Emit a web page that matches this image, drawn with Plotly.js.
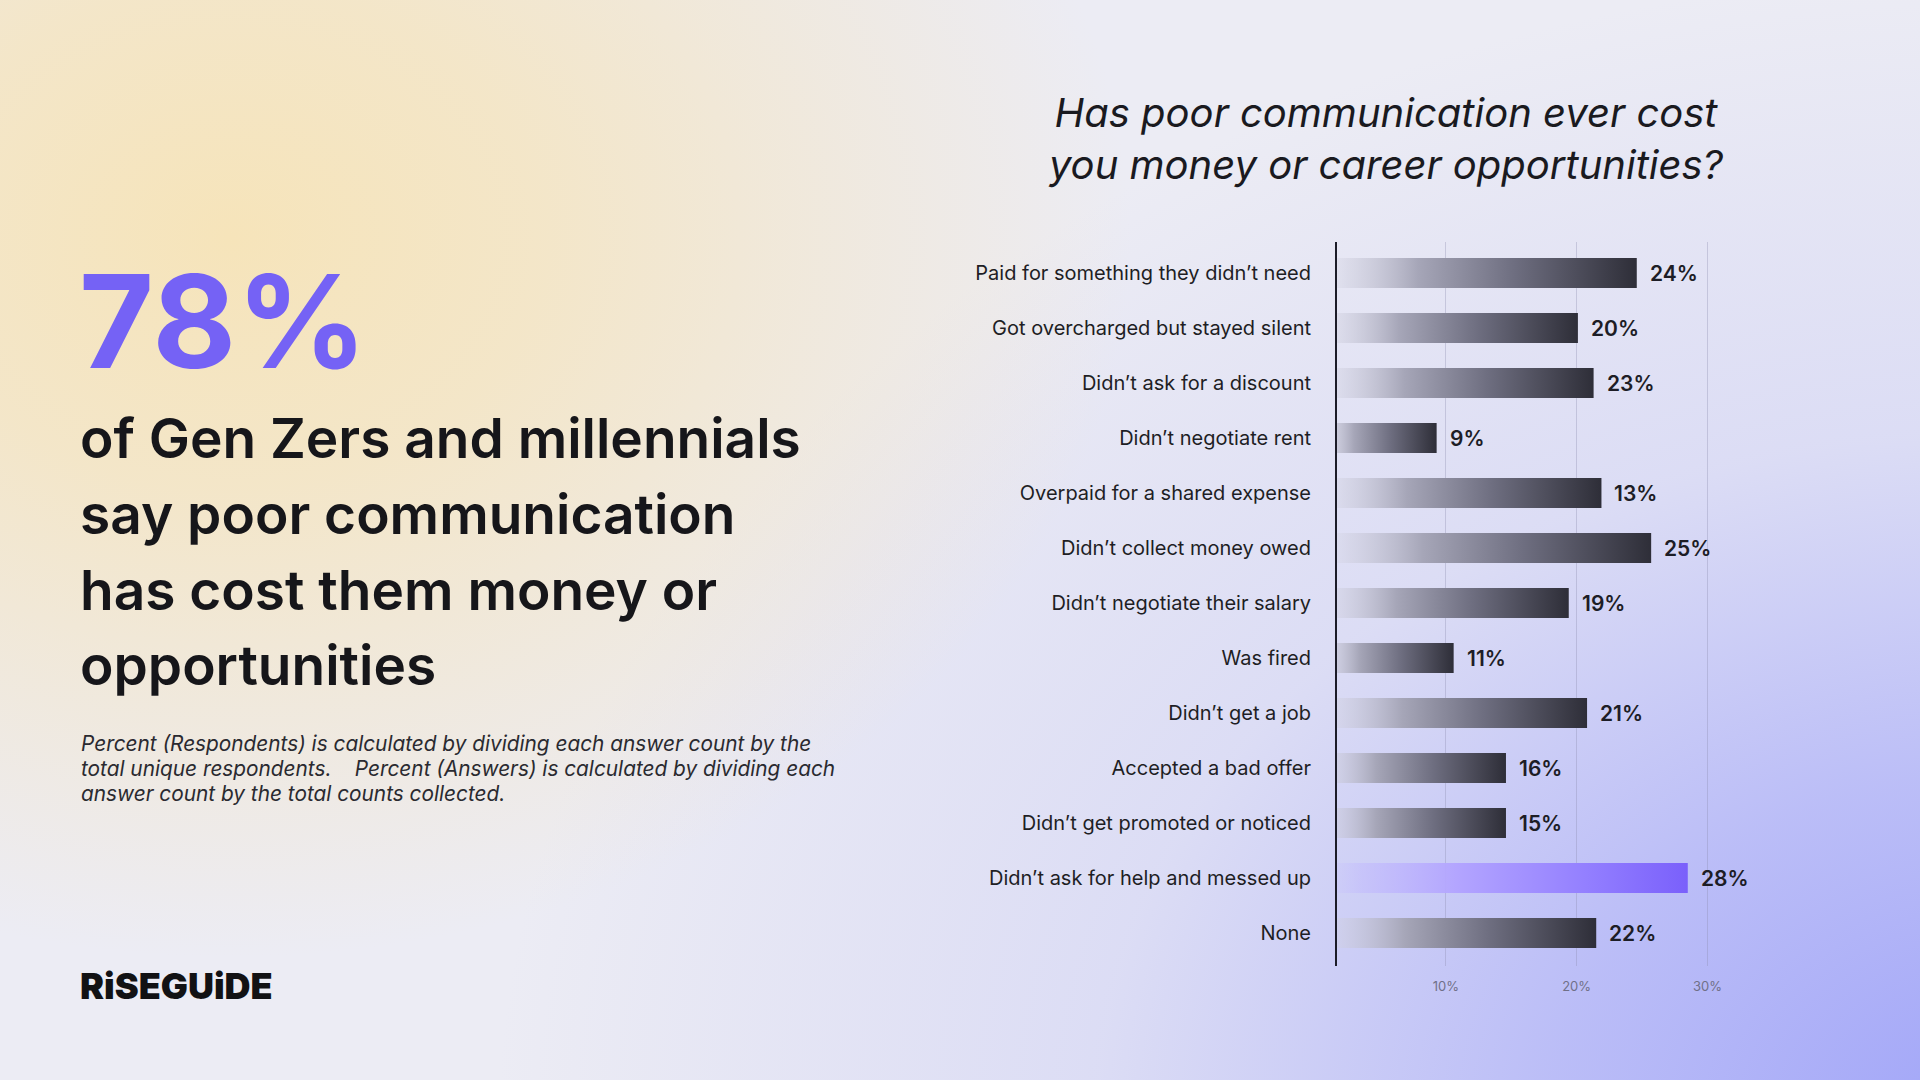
<!DOCTYPE html>
<html>
<head>
<meta charset="utf-8">
<script src="https://cdn.plot.ly/plotly-3.0.1.min.js"></script>
<style>
  html, body { margin: 0; padding: 0; width: 1920px; height: 1080px; overflow: hidden; }
  body {
    background:
      radial-gradient(ellipse 900px 720px at 12% 22%, rgba(246,228,186,1) 0%, rgba(246,228,186,0.75) 35%, rgba(246,228,186,0) 100%),
      radial-gradient(ellipse 1500px 1150px at 104% 104%, rgba(160,164,248,1) 0%, rgba(175,178,248,0.8) 30%, rgba(200,202,246,0.45) 60%, rgba(220,221,245,0) 100%),
      #ececf4;
  }
  #chart { width: 1920px; height: 1080px; }
</style>
</head>
<body>
<div id="chart"></div>
<script>
// ---- data ----
const categories = [
  "Paid for something they didn’t need",
  "Got overcharged but stayed silent",
  "Didn’t ask for a discount",
  "Didn’t negotiate rent",
  "Overpaid for a shared expense",
  "Didn’t collect money owed",
  "Didn’t negotiate their salary",
  "Was fired",
  "Didn’t get a job",
  "Accepted a bad offer",
  "Didn’t get promoted or noticed",
  "Didn’t ask for help and messed up",
  "None"
];
const barLengths = [24.6, 20.1, 21.3, 9.3, 21.9, 25.7, 19.4, 10.6, 20.8, 14.6, 14.6, 28.5, 21.5];
const valueLabels = ["24%", "20%", "23%", "9%", "13%", "25%", "19%", "11%", "21%", "16%", "15%", "28%", "22%"];
const highlightCategory = "Didn’t ask for help and messed up";
const xTickValues = [10, 20, 30];
const xTickLabels = ["10%", "20%", "30%"];

const chartTitle = "Has poor communication ever cost<br>you money or career opportunities?";
const bigStat = "78%";
const headlineLines = [
  "of Gen Zers and millennials",
  "say poor communication",
  "has cost them money or",
  "opportunities"
];
const footnoteLines = [
  "Percent (Respondents) is calculated by dividing each answer count by the",
  "total unique respondents.&nbsp;&nbsp;&nbsp; Percent (Answers) is calculated by dividing each",
  "answer count by the total counts collected."
];
const brand = "RiSEGUiDE";

// ---- layout helpers ----
const W = 1920, H = 1080;
const px = v => v / W;
const py = v => 1 - v / H;

const DARK = "#2f2f39", PURPLE = "#7b62fb";
const barColors = categories.map(c => c === highlightCategory ? PURPLE : DARK);

const FONT = "Inter, 'Noto Sans', sans-serif";

const annotations = [];
// value labels at bar ends
categories.forEach((c, i) => {
  annotations.push({
    x: barLengths[i], y: c, xref: "x", yref: "y",
    text: valueLabels[i], showarrow: false,
    xanchor: "left", yanchor: "middle", xshift: 11,
    font: { family: FONT, size: 21, weight: 600, color: "#1d1d26" }
  });
});
// big stat
annotations.push({
  x: px(77), y: py(321), xref: "paper", yref: "paper",
  text: bigStat, showarrow: false, xanchor: "left", yanchor: "middle",
  font: { family: FONT, size: 129, weight: 700, color: "#7562f5" }
});
// headline
const headBase = [438, 514, 590, 665];
headlineLines.forEach((t, i) => annotations.push({
  x: px(78), y: py(headBase[i]), xref: "paper", yref: "paper",
  text: t, showarrow: false, xanchor: "left", yanchor: "middle",
  font: { family: FONT, size: 55, weight: 600, color: "#16161a" }
}));
// footnote
const footY = [743, 768, 793];
footnoteLines.forEach((t, i) => annotations.push({
  x: px(79), y: py(footY[i]), xref: "paper", yref: "paper",
  text: t, showarrow: false, xanchor: "left", yanchor: "middle",
  font: { family: FONT, size: 20.8, style: "italic", color: "#2a2a30" }
}));
// brand
annotations.push({
  x: px(78), y: py(986), xref: "paper", yref: "paper",
  text: brand, showarrow: false, xanchor: "left", yanchor: "middle",
  font: { family: FONT, size: 36, weight: 900, color: "#121214" }
});

const trace = {
  type: "bar",
  orientation: "h",
  y: categories,
  x: barLengths,
  width: 0.545,
  marker: { color: barColors, line: { width: 0 } },
  hoverinfo: "skip"
};

const zeroPx = 1315, perUnit = 13.08;
const plotL = 1337, plotR = 1780, plotT = 242, plotB = 966;

const layout = {
  width: W, height: H,
  margin: { l: 0, r: 0, t: 0, b: 0, pad: 0 },
  paper_bgcolor: "rgba(0,0,0,0)",
  plot_bgcolor: "rgba(0,0,0,0)",
  showlegend: false,
  title: {
    text: chartTitle,
    x: px(1386), xref: "container", xanchor: "center",
    y: py(127), yref: "container", yanchor: "middle",
    font: { family: FONT, size: 40, style: "italic", color: "#1a1a1f" }
  },
  xaxis: {
    domain: [px(plotL), px(plotR)],
    range: [(plotL - zeroPx) / perUnit, (plotR - zeroPx) / perUnit],
    tickvals: xTickValues, ticktext: xTickLabels,
    showgrid: true, gridcolor: "rgba(140,140,175,0.35)", gridwidth: 1,
    zeroline: false, showline: false,
    ticks: "outside", ticklen: 8, tickcolor: "rgba(0,0,0,0)",
    tickfont: { family: FONT, size: 13, color: "#707088" },
    fixedrange: true
  },
  yaxis: {
    domain: [1 - plotB / H, 1 - plotT / H],
    type: "category",
    range: [12.6, -0.564],
    showline: true, linecolor: "#1c1c28", linewidth: 2,
    showgrid: false, zeroline: false,
    ticks: "outside", ticklen: 20, tickcolor: "rgba(0,0,0,0)",
    tickfont: { family: FONT, size: 20, color: "#1e1e24" },
    fixedrange: true
  },
  annotations: annotations
};

function applyGradients(gd) {
  const svg = gd.querySelector("svg.main-svg");
  if (!svg) return;
  const NS = "http://www.w3.org/2000/svg";
  let defs = svg.querySelector("defs");
  if (!defs) { defs = document.createElementNS(NS, "defs"); svg.insertBefore(defs, svg.firstChild); }
  function grad(id, stops) {
    if (defs.querySelector("#" + id)) return;
    const g = document.createElementNS(NS, "linearGradient");
    g.setAttribute("id", id);
    g.setAttribute("x1", "0"); g.setAttribute("y1", "0");
    g.setAttribute("x2", "1"); g.setAttribute("y2", "0");
    stops.forEach(([o, c]) => {
      const s = document.createElementNS(NS, "stop");
      s.setAttribute("offset", o); s.setAttribute("stop-color", c);
      g.appendChild(s);
    });
    defs.appendChild(g);
  }
  grad("gradDark", [[0, "rgba(220,220,232,0)"], [0.1, "rgba(205,205,220,0.45)"], [0.32, "#a6a6b8"], [0.62, "#6e6e80"], [1, "#2e2e38"]]);
  grad("gradPurple", [[0, "rgba(200,195,255,0)"], [0.12, "rgba(190,180,255,0.4)"], [0.38, "#b3a5ff"], [0.72, "#9480ff"], [1, "#7a60fb"]]);
  const paths = gd.querySelectorAll(".barlayer .point path");
  paths.forEach((p, i) => {
    const isHi = barColors[i] === PURPLE;
    p.style.fill = isHi ? "url(#gradPurple)" : "url(#gradDark)";
    p.style.fillOpacity = 1;
  });
}

const gd = document.getElementById("chart");
Plotly.newPlot(gd, [trace], layout, { displayModeBar: false, staticPlot: true }).then(() => {
  applyGradients(gd);
  gd.on && gd.on("plotly_afterplot", () => applyGradients(gd));
});
</script>
</body>
</html>
